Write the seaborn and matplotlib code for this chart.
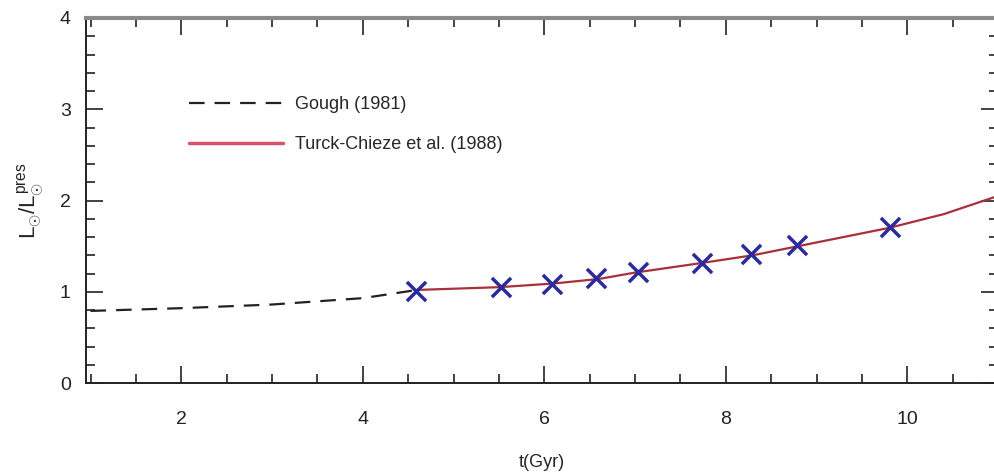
import numpy as np
import pandas as pd
import seaborn as sns
import matplotlib
matplotlib.use("Agg")
import matplotlib.pyplot as plt
from matplotlib.ticker import MultipleLocator
from matplotlib.lines import Line2D

# Data
gough_t = [1.0, 2.0, 3.0, 4.0, 4.6]
gough_L = [0.79, 0.82, 0.86, 0.93, 1.02]
tc_t = [4.6, 5.5, 6.1, 6.6, 7.0, 7.7, 8.3, 8.8, 9.8, 10.4, 11.0]
tc_L = [1.02, 1.05, 1.09, 1.14, 1.21, 1.31, 1.40, 1.50, 1.70, 1.85, 2.05]
pts_t = [4.59, 5.52, 6.08, 6.57, 7.03, 7.74, 8.28, 8.79, 9.81]
pts_L = [1.01, 1.05, 1.09, 1.15, 1.22, 1.31, 1.41, 1.51, 1.71]
labels = ["Gough (1981)", "Turck-Chieze et al. (1988)"]
x_ticks = [2, 4, 6, 8, 10]
y_ticks = [0, 1, 2, 3, 4]

sns.set_style("ticks")
plt.rcParams['font.family'] = ['Liberation Sans', 'DejaVu Sans']
plt.rcParams['mathtext.fontset'] = 'custom'
plt.rcParams['mathtext.rm'] = 'Liberation Sans'
plt.rcParams['mathtext.it'] = 'Liberation Sans'

fig = plt.figure(figsize=(9.94, 4.74), dpi=100)
W, H = 994, 474
left, right, top, bottom = 86, 998, 18, 383
ax = fig.add_axes([left / W, 1 - bottom / H, (right - left) / W, (bottom - top) / H])

df_g = pd.DataFrame({"t": gough_t, "L": gough_L})
df_tc = pd.DataFrame({"t": tc_t, "L": tc_L})
df_p = pd.DataFrame({"t": pts_t, "L": pts_L})

sns.lineplot(data=df_g, x="t", y="L", ax=ax, color="#222222", lw=1.6,
             dashes=False, estimator=None, sort=False)
ax.lines[-1].set_dashes((7, 4.5))
sns.lineplot(data=df_tc, x="t", y="L", ax=ax, color="#a8303a", lw=1.6,
             estimator=None, sort=False)
sns.scatterplot(data=df_p, x="t", y="L", ax=ax, marker="x", s=190,
                color="#2b2b9c", linewidth=2.5, zorder=5)

ax.set_xlim(0.95, 11.0)
ax.set_ylim(0, 4)
ax.set_xticks(x_ticks)
ax.set_yticks(y_ticks)
ax.xaxis.set_minor_locator(MultipleLocator(0.5))
ax.yaxis.set_minor_locator(MultipleLocator(0.2))
ax.tick_params(which='both', direction='in', top=True, right=True, colors='#222222',
               labelcolor='#222222', width=1.2)
ax.tick_params(which='major', length=12, labelsize=14)
ax.tick_params(which='minor', length=6.5)
ax.tick_params(axis='x', which='major', pad=20)
ax.tick_params(axis='y', which='major', pad=11)

for s in ax.spines.values():
    s.set_linewidth(1.4)
    s.set_color('#222222')
ax.spines['top'].set_color('#8a8a8a')
ax.spines['top'].set_linewidth(3)

ax.set_xlabel("t(Gyr)", fontsize=13, labelpad=19)
ax.set_ylabel(r"$L_{\odot}/L_{\odot}^{pres}$", fontsize=16, labelpad=10)

handles = [Line2D([], [], color="#222222", lw=1.6, dashes=(7, 4.5)),
           Line2D([], [], color="#d9506a", lw=2.5)]
ax.legend(handles, labels, loc='upper left', bbox_to_anchor=(0.095, 0.83),
          frameon=False, fontsize=13, handlelength=5.2, labelspacing=1.25,
          handletextpad=0.7)

fig.savefig("out.png", dpi=100)
